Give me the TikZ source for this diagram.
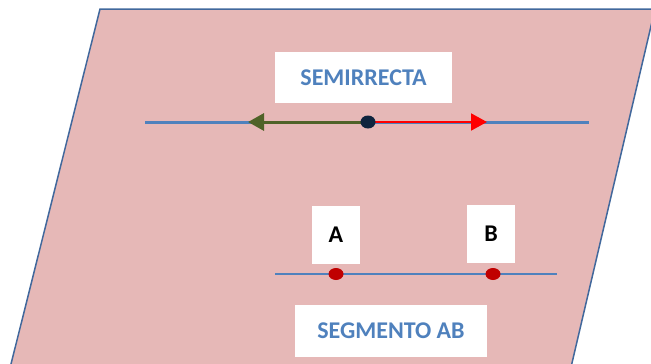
\documentclass[tikz,border=0pt]{standalone}
\usepackage{fontspec}
\setmainfont{Carlito}
\usetikzlibrary{arrows.meta, shapes.geometric}
\definecolor{planefill}{HTML}{E6B8B7}
\definecolor{planeedge}{HTML}{41689C}
\definecolor{lineblue}{HTML}{4F81BD}
\definecolor{olive}{HTML}{4F6228}
\definecolor{navy}{HTML}{0F243E}
\definecolor{darkred}{HTML}{C00000}
\tikzset{
  label box/.style={fill=white, inner sep=0pt, font=\bfseries\fontsize{24}{28}\selectfont},
  title/.style={label box, text=lineblue},
  letter/.style={label box, text=black},
  dot/.style={ellipse, inner sep=0pt, minimum width=15pt, minimum height=12pt},
}
\begin{document}
\begin{tikzpicture}[x=1pt, y=-1pt]
  \useasboundingbox (0,0) rectangle (651,364);
  % the plane
  \begin{scope}
    \clip (0,0) rectangle (651,364);
    \filldraw[fill=planefill, draw=planeedge, line width=1.5pt]
      (100,9) -- (655,9) -- (568,380) -- (7,380) -- cycle;
  \end{scope}

  % ray
  \coordinate (r1) at (145,122);
  \coordinate (r2) at (589,122);
  \draw[lineblue, line width=3pt] (r1) -- (r2);
  \node[title, minimum width=177pt, minimum height=51pt] (semi) at (363.5,77.5) {SEMIRRECTA};
  \coordinate (gtip) at (248,122);
  \coordinate (rtip) at (487,122);
  \node[dot] (o) at (368,122) {};
  \draw[olive, line width=3pt, -{Triangle[length=16pt, width=17pt]}] (o.center) -- (gtip);
  \draw[red, line width=2pt, -{Triangle[length=16pt, width=17pt]}] (o.center) -- (rtip);
  \fill[navy] (o.center) ellipse (7.5pt and 6.5pt);

  % segment
  \coordinate (s1) at (275,274);
  \coordinate (s2) at (557,274);
  \draw[lineblue, line width=1.6pt] (s1) -- (s2);
  \node[dot, fill=darkred] (a) at (336,274) {};
  \node[dot, fill=darkred] (b) at (493,274) {};
  \node[letter, minimum width=48pt, minimum height=58pt] (la) at (336,235) {A};
  \node[letter, minimum width=48pt, minimum height=58pt] (lb) at (491,234) {B};
  \node[title, minimum width=192pt, minimum height=52pt] (seg) at (391,331) {SEGMENTO AB};
\end{tikzpicture}
\end{document}
